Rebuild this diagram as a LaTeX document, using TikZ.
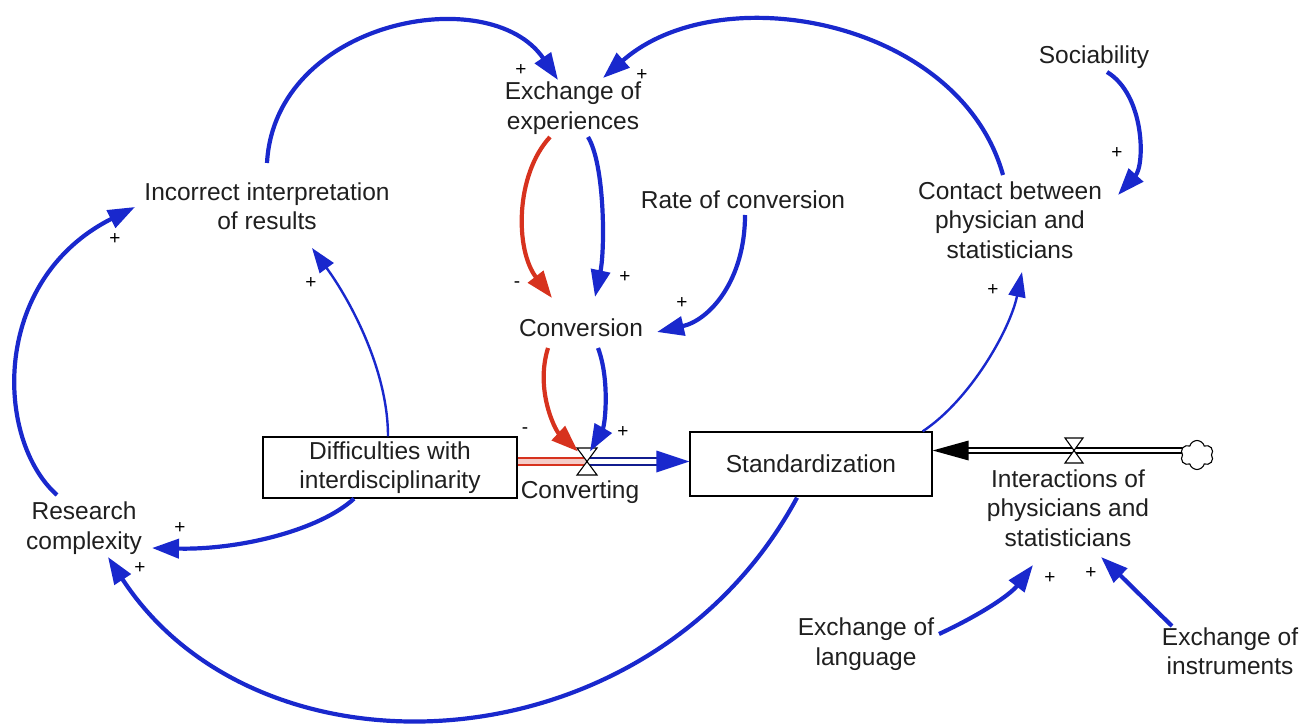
\documentclass[tikz,border=0pt]{standalone}
\usepackage{fontspec}
\setmainfont{Liberation Sans}
\usetikzlibrary{arrows.meta,calc,shapes.symbols}
\definecolor{lnk}{RGB}{25,40,205}
\definecolor{neg}{RGB}{215,50,30}
\tikzset{
  var/.style={font=\fontsize{24.5}{29.5}\selectfont, align=center, inner sep=1pt, text=black!88},
  stock/.style={var, draw=black, line width=1.3pt},
  sgn/.style={font=\fontsize{19}{19}\selectfont, inner sep=0pt, text=black},
  poslink/.style={draw=lnk, line width=4.2pt, -{Triangle[length=27pt,width=19pt]}},
  neglink/.style={draw=neg, line width=4.2pt, -{Triangle[length=27pt,width=19pt]}},
  thinlink/.style={draw=lnk, line width=2.4pt, -{Triangle[length=25pt,width=17pt]}},
  pipe/.style={line width=1.1pt},
  valveshape/.style={draw=black, line width=1.1pt, fill=white}
}
\begin{document}
\begin{tikzpicture}[x=1pt,y=-1pt]
\useasboundingbox (0,0) rectangle (1314,727);

% variables
\node[var] (exch) at (573,108) {Exchange of\\experiences};
\node[var] (inc) at (267,206) {Incorrect interpretation\\of results};
\node[var] (rate) at (743,200) {Rate of conversion};
\node[var] (soc) at (1094,57) {Sociability};
\node[var] (contact) at (1010,220) {Contact between\\physician and\\statisticians};
\node[var] (conv) at (581,328) {Conversion};
\node[var] (research) at (84,528) {Research\\complexity};
\node[var] (inter) at (1068,508) {Interactions of\\physicians and\\statisticians};
\node[var] (lang) at (866,644) {Exchange of\\language};
\node[var] (instr) at (1230,651) {Exchange of\\instruments};

% stocks
\node[stock, minimum width=254pt, minimum height=61pt] (diff) at (390,467.5) {Difficulties with\\interdisciplinarity};
\node[stock, minimum width=242pt, minimum height=64pt] (std) at (811,464) {Standardization};

% flow: Converting
\coordinate (v1) at (587,461.5);
\fill[neg!25] ($(diff.east|-v1)+(0,-3.5)$) rectangle ($(v1)+(0,3.5)$);
\draw[pipe, draw=neg] ($(diff.east|-v1)+(0,-3.5)$) -- ($(v1)+(0,-3.5)$);
\draw[pipe, draw=neg] ($(diff.east|-v1)+(0,3.5)$) -- ($(v1)+(0,3.5)$);
\draw[pipe, draw=lnk!70!black] ($(v1)+(0,-3.5)$) -- ($(std.west|-v1)+(-30,-3.5)$);
\draw[pipe, draw=lnk!70!black] ($(v1)+(0,3.5)$) -- ($(std.west|-v1)+(-30,3.5)$);
\fill[lnk] (std.west|-v1) -- ++(-33,-11) -- ++(0,22) -- cycle;
\draw[valveshape] ($(v1)+(-10,-13.5)$) -- ($(v1)+(10,-13.5)$) -- ($(v1)+(-10,13.5)$) -- ($(v1)+(10,13.5)$) -- cycle;
\node[var] (convg) at (580,492) {Converting};

% flow: Interactions
\node[cloud, draw=black, line width=1.1pt, cloud puffs=6, aspect=1.2, minimum width=33pt, minimum height=29pt, inner sep=0pt] (cloud) at (1197,455) {};
\coordinate (v2) at (1074,450.5);
\draw[pipe] ($(cloud.west|-v2)+(0,-2.5)$) -- ($(std.east|-v2)+(30,-2.5)$);
\draw[pipe] ($(cloud.west|-v2)+(0,2.5)$) -- ($(std.east|-v2)+(30,2.5)$);
\fill[black] (std.east|-v2) -- ++(36,-10) -- ++(0,20) -- cycle;
\draw[valveshape] ($(v2)+(-9,-12.5)$) -- ($(v2)+(9,-12.5)$) -- ($(v2)+(-9,12.5)$) -- ($(v2)+(9,12.5)$) -- cycle;

% causal links
\draw[poslink] ($(inc)+(0,-43)$) .. controls (275,20) and (490,-20) .. ($(exch)+(-15,-28)$);
\draw[poslink] ($(contact)+(-7,-45)$) .. controls (960,20) and (720,-25) .. ($(exch)+(30,-30)$);
\draw[poslink] ($(soc)+(13,15)$) .. controls (1145,95) and (1145,165) .. ($(contact)+(108,-25)$);
\draw[neglink] ($(exch)+(-23,29)$) .. controls (515,175) and (515,250) .. ($(conv)+(-29,-30)$);
\draw[poslink] ($(exch)+(15,29)$) .. controls (605,165) and (605,250) .. ($(conv)+(14,-31)$);
\draw[poslink] ($(rate)+(2,15)$) .. controls (745,280) and (710,320) .. ($(conv)+(76,4)$);
\draw[neglink] ($(conv)+(-33,20)$) .. controls (535,390) and (555,430) .. ($(v1)+(-9,-10)$);
\draw[poslink] ($(conv)+(17,20)$) .. controls (610,380) and (605,425) .. ($(v1)+(3,-10)$);
\draw[thinlink] ($(diff.north)+(-2,0)$) .. controls (388,370) and (350,300) .. ($(inc)+(45,42)$);
\draw[poslink] ($(diff.south)+(-36,0)$) .. controls (320,530) and (240,550) .. ($(research)+(68,20)$);
\draw[poslink] ($(research)+(-27,-33)$) .. controls (-5,440) and (-10,280) .. ($(inc)+(-132,1)$);
\draw[poslink] ($(std.south)+(-14,1)$) .. controls (650,770) and (260,790) .. ($(research)+(24,29)$);
\draw[thinlink] ($(std.north east)+(-10,0)$) .. controls (970,400) and (1010,330) .. ($(contact)+(12,52)$);
\draw[poslink] ($(lang)+(73,-10)$) .. controls (980,615) and (1010,595) .. ($(inter)+(-35,57)$);
\draw[poslink] ($(instr)+(-58,-25)$) .. controls (1140,595) and (1120,575) .. ($(inter)+(33,49)$);

% polarity signs
\node[sgn] (p1) at (521,70) {+};
\node[sgn] (p2) at (642,75) {+};
\node[sgn] (p3) at (1117,153) {+};
\node[sgn] (p4) at (517,285) {-};
\node[sgn] (p5) at (625,277) {+};
\node[sgn] (p6) at (682,303) {+};
\node[sgn] (p7) at (525,431) {-};
\node[sgn] (p8) at (623,432) {+};
\node[sgn] (p9) at (311,283) {+};
\node[sgn] (p10) at (180,528) {+};
\node[sgn] (p11) at (115,239) {+};
\node[sgn] (p12) at (140,568) {+};
\node[sgn] (p13) at (993,290) {+};
\node[sgn] (p14) at (1050,578) {+};
\node[sgn] (p15) at (1091,573) {+};
\end{tikzpicture}
\end{document}
